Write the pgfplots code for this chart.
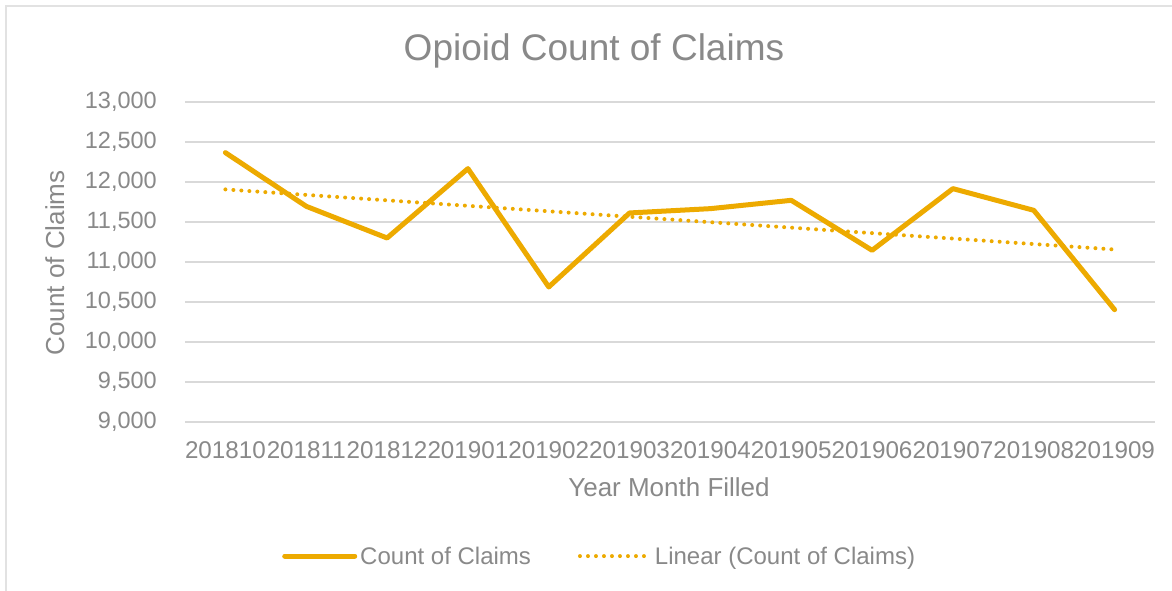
\documentclass[border=0pt]{standalone}
\usepackage{pgfplots}
\usepackage{pgfplotstable}
\pgfplotsset{compat=1.18}
\usepackage{fontspec}
\setmainfont{Liberation Sans}
\definecolor{gold}{RGB}{237,170,0}
\definecolor{txt}{RGB}{137,137,137}
\definecolor{gridc}{RGB}{217,217,217}
\definecolor{framec}{RGB}{226,226,226}

\pgfplotstableread{
i v
0 12367
1 11696
2 11300
3 12167
4 10688
5 11613
6 11667
7 11771
8 11146
9 11917
10 11646
11 10404
}\claims
\pgfplotstablecreatecol[linear regression={x=i,y=v}]{trend}\claims

\begin{document}
\begin{tikzpicture}[x=1pt,y=1pt]
\path[use as bounding box] (0,0) rectangle (1172,591);
\fill[white] (0,0) rectangle (1172,591);
\draw[framec, line width=2pt] (5.5,0) -- (5.5,585) -- (1172,585);
\begin{axis}[
  at={(185pt,169pt)}, anchor=south west,
  scale only axis, width=970pt, height=320pt,
  xmin=-0.5, xmax=11.5, ymin=9000, ymax=13000,
  ytick={9000,9500,...,13000},
  xtick={0,...,11},
  xticklabels={201810,201811,201812,201901,201902,201903,201904,201905,201906,201907,201908,201909},
  scaled y ticks=false,
  /pgf/number format/fixed,
  /pgf/number format/precision=0,
  /pgf/number format/1000 sep={,},
  /pgf/number format/assume math mode=true,
  major tick length=0pt,
  axis lines*=left,
  y axis line style={draw=none},
  x axis line style={draw=gridc, line width=2.3pt},
  ymajorgrids, xmajorgrids=false,
  major grid style={draw=gridc, line width=1.7pt},
  tick label style={font=\fontsize{23.5}{28}\selectfont, text=txt},
  yticklabel style={anchor=east, inner sep=0pt, xshift=-28pt},
  xticklabel style={anchor=north, inner sep=0pt, yshift=-19pt, font=\fontsize{24.2}{28}\selectfont},
  title={Opioid Count of Claims},
  title style={at={(axis description cs:0.4216,1.11)}, anchor=base, font=\fontsize{37}{44}\selectfont, text=txt, inner sep=0pt},
  ylabel={Count of Claims},
  ylabel style={at={(axis description cs:-0.1247,0.497)}, anchor=base, rotate=0, font=\fontsize{26}{31}\selectfont, text=txt, inner sep=0pt},
  xlabel={Year Month Filled},
  xlabel style={at={(axis description cs:0.499,-0.234)}, anchor=base, font=\fontsize{26}{31}\selectfont, text=txt, inner sep=0pt},
  legend style={at={(axis description cs:0.428,-0.419)}, anchor=center, draw=none, fill=none,
    font=\fontsize{24}{29}\selectfont, text=txt, legend columns=2,
    /tikz/every even column/.append style={column sep=44pt},
    nodes={inner sep=3pt}},
  legend cell align=left,
  legend image code/.code={\draw[#1] (0pt,0pt) -- (70pt,0pt);},
  clip=false,
]
\addplot[gold, line width=5pt, line cap=round, line join=round] table[x=i, y=v] {\claims};
\addlegendentry{Count of Claims}
\addplot[gold, line width=4pt, line cap=round, dash pattern=on 0pt off 8pt] table[x=i, y=trend] {\claims};
\addlegendentry{Linear (Count of Claims)}
\end{axis}
\end{tikzpicture}
\end{document}
